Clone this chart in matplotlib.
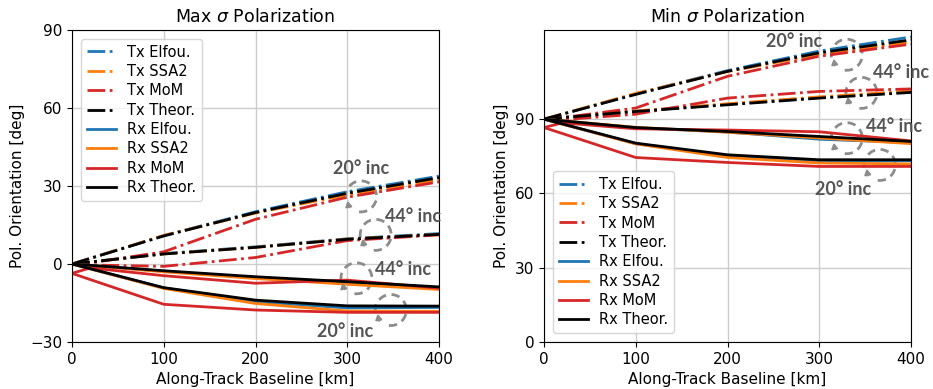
import matplotlib
matplotlib.use("Agg")
import matplotlib.pyplot as plt
from matplotlib.patches import Arc

# ---------------- data ----------------
baseline = [0, 100, 200, 300, 400]
baseline_mom = [0, 20, 100, 200, 300, 400]

# Max sigma polarization (left)
max_tx20 = {
    "Elfou": [0, 10.9, 20.1, 27.8, 33.8],
    "SSA2": [0, 11.0, 19.6, 26.6, 32.4],
    "MoM": [0, 0.4, 4.7, 17.2, 25.7, 31.6],
    "Theor": [0, 10.8, 19.8, 27.2, 33.2],
}
max_tx44 = {
    "Elfou": [0, 4.0, 6.6, 9.7, 11.7],
    "SSA2": [0, 3.9, 6.4, 9.6, 11.4],
    "MoM": [0, -0.4, -0.9, 2.5, 9.0, 11.2],
    "Theor": [0, 3.85, 6.4, 9.5, 11.4],
}
max_rx44 = {
    "Elfou": [0, -2.8, -5.2, -7.3, -9.2],
    "SSA2": [0, -3.0, -5.6, -7.8, -9.8],
    "MoM": [-3.6, -1.5, -4.5, -7.4, -6.2, -9.3],
    "Theor": [0, -2.6, -4.9, -6.8, -8.8],
}
max_rx20 = {
    "Elfou": [0, -9.2, -14.5, -16.9, -16.7],
    "SSA2": [0, -9.4, -15.2, -18.1, -18.2],
    "MoM": [-3.6, -6.0, -15.5, -17.7, -18.6, -18.6],
    "Theor": [0, -9.1, -13.9, -16.1, -16.2],
}

# Min sigma polarization (right)
min_tx20 = {
    "Elfou": [90, 100.2, 109.6, 117.5, 123.2],
    "SSA2": [90, 100.4, 109.2, 116.2, 121.2],
    "MoM": [90, 90.6, 94.5, 107.3, 115.4, 120.3],
    "Theor": [90, 100.0, 109.3, 116.8, 122.0],
}
min_tx44 = {
    "Elfou": [90, 93.2, 96.0, 98.7, 101.0],
    "SSA2": [90, 93.3, 96.2, 99.0, 101.4],
    "MoM": [90, 89.8, 92.0, 98.5, 101.2, 102.2],
    "Theor": [90, 93.1, 95.8, 98.5, 100.8],
}
min_rx44 = {
    "Elfou": [90, 86.5, 84.8, 81.9, 80.5],
    "SSA2": [90, 86.7, 84.7, 82.4, 80.1],
    "MoM": [86.6, 88.5, 86.1, 85.6, 84.9, 81.2],
    "Theor": [90, 86.6, 85.0, 83.0, 81.0],
}
min_rx20 = {
    "Elfou": [90, 80.1, 75.2, 73.0, 73.2],
    "SSA2": [90, 80.0, 74.5, 72.3, 71.9],
    "MoM": [86.6, 84.2, 74.5, 72.5, 70.9, 70.9],
    "Theor": [90, 80.3, 75.6, 73.6, 73.6],
}

methods = ["Elfou", "SSA2", "MoM", "Theor"]
labels = {"Elfou": "Elfou.", "SSA2": "SSA2", "MoM": "MoM", "Theor": "Theor."}
colors = {"Elfou": "#1f77b4", "SSA2": "#ff7f0e", "MoM": "#d62728", "Theor": "black"}

# annotations: (text, x, y, ha)  and circles (x, y)
max_texts = [("20° inc", 315, 36.8, "center"), ("44° inc", 341, 18.2, "left"),
             ("44° inc", 330, -2.3, "left"), ("20° inc", 298, -26.0, "center")]
max_circles = [(315, 26.0), (331, 11.2), (310, -5.5), (347.5, -17.7)]
min_texts = [("20° inc", 273, 121.5, "center"), ("44° inc", 359, 108.7, "left"),
             ("44° inc", 350.5, 87.0, "left"), ("20° inc", 326, 61.4, "center")]
min_circles = [(330, 116.0), (346, 100.6), (330, 82.3), (366, 71.5)]

plt.rcParams["font.family"] = ["DejaVu Sans"]
fig = plt.figure(figsize=(9.33, 3.89), dpi=100)
W, H = 933, 389
axL = fig.add_axes([72 / W, 1 - 342 / H, 367 / W, 312 / H])
axR = fig.add_axes([544 / W, 1 - 342 / H, 367 / W, 312 / H])


def draw(ax, tx20, tx44, rx20, rx44):
    for m in methods:
        xs = baseline_mom if m == "MoM" else baseline
        ax.plot(xs, tx20[m], "-.", color=colors[m], lw=2, label="Tx " + labels[m])
        ax.plot(xs, tx44[m], "-.", color=colors[m], lw=2)
    for m in methods:
        xs = baseline_mom if m == "MoM" else baseline
        ax.plot(xs, rx20[m], "-", color=colors[m], lw=2, label="Rx " + labels[m])
        ax.plot(xs, rx44[m], "-", color=colors[m], lw=2)


draw(axL, max_tx20, max_tx44, max_rx20, max_rx44)
draw(axR, min_tx20, min_tx44, min_rx20, min_rx44)

axL.set_xlim(0, 400)
axL.set_ylim(-30, 90)
axL.set_yticks([-30, 0, 30, 60, 90])
axR.set_xlim(0, 400)
axR.set_ylim(0, 126)
axR.set_yticks([0, 30, 60, 90])

for ax, title in ((axL, r"Max $\sigma$ Polarization"), (axR, r"Min $\sigma$ Polarization")):
    ax.set_xticks([0, 100, 200, 300, 400])
    ax.grid(True, color="#cccccc", lw=1)
    ax.set_axisbelow(True)
    ax.set_title(title, fontsize=12.5)
    ax.set_xlabel("Along-Track Baseline [km]", fontsize=11)
    ax.set_ylabel("Pol. Orientation [deg]", fontsize=11)
    ax.tick_params(labelsize=11)

axL.legend(loc="upper left", fontsize=10.5, handlelength=2.0, labelspacing=0.3,
           borderaxespad=0.6)
axR.legend(loc="lower left", fontsize=10.5, handlelength=2.0, labelspacing=0.3,
           borderaxespad=0.6)


def annotate(ax, texts, circles, ylim_span):
    pxw = ax.bbox.width / 400.0
    pxh = ax.bbox.height / ylim_span
    d = 31.0
    for t, x, y, ha in texts:
        ax.text(x, y, t, ha=ha, va="center", fontsize=13, fontweight="bold",
                family=["Lato", "DejaVu Sans"], color="#555555", clip_on=False)
    for x, y in circles:
        ax.add_patch(Arc((x, y), d / pxw, d / pxh, theta1=250, theta2=200,
                         ls=(0, (3, 2)), lw=2, color="#8c8c8c", clip_on=False))
        ax.plot([x - 0.42 * d / pxw], [y - 0.27 * d / pxh], marker=(3, 0, 10),
                ms=5, color="#8c8c8c", clip_on=False)


annotate(axL, max_texts, max_circles, 120)
annotate(axR, min_texts, min_circles, 126)

fig.savefig("out.png", dpi=100)
